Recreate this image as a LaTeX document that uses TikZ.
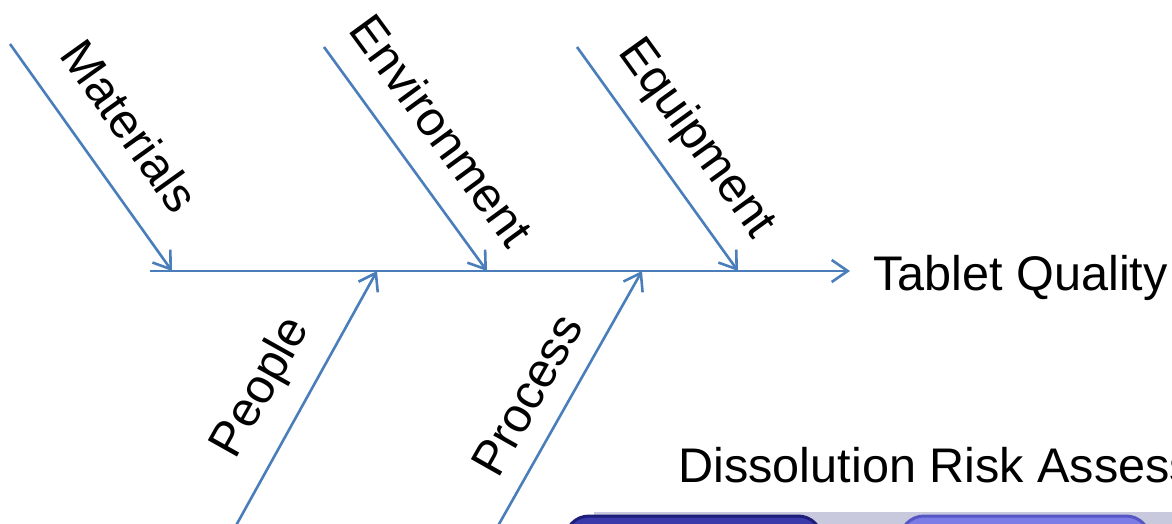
\documentclass[tikz,border=0pt]{standalone}
\usepackage{fontspec}
\setmainfont{Liberation Sans}
\usetikzlibrary{arrows.meta}
\definecolor{bonecol}{HTML}{4A7EBB}
\definecolor{barcol}{HTML}{C9C9DE}
\definecolor{darkbox}{HTML}{3A3AAA}
\definecolor{darkedge}{HTML}{1E1E7A}
\definecolor{lightbox}{HTML}{7C7CE6}
\definecolor{lightedge}{HTML}{5656C4}
\tikzstyle{bone}=[draw=bonecol,line width=1.3pt,-{Straight Barb[length=8pt,width=11pt,line width=1.3pt]}]
\tikzstyle{cause}=[inner sep=0pt,font=\fontsize{24.3}{28}\selectfont]
\tikzstyle{tab}=[line width=1.5pt,rounded corners=12pt]

\begin{document}
\begin{tikzpicture}[x=0.5pt,y=-0.5pt]
    \useasboundingbox (0,0) rectangle (1172,524);
    \clip (0,0) rectangle (1172,524);
    \coordinate (tail) at (150,271);
    \coordinate (head) at (850,271);
    \coordinate (j1) at (172,271);
    \coordinate (j2) at (377,271);
    \coordinate (j3) at (487,271);
    \coordinate (j4) at (642,271);
    \coordinate (j5) at (738,271);
    \coordinate (s1) at (10,44);
    \coordinate (s2) at (228,540);
    \coordinate (s3) at (324,47);
    \coordinate (s4) at (490,540);
    \coordinate (s5) at (577,47);

    \node[cause,rotate=-54.4] (mat) at (130,126) {Materials};
    \node[cause,rotate=-53.8] (env) at (442,130) {Environment};
    \node[cause,rotate=-54.2] (equ) at (696,139) {Equipment};
    \node[cause,rotate=60.7] (peo) at (262,388) {People};
    \node[cause,rotate=60.5] (pro) at (527,395) {Process};
    \node[cause,anchor=base west] (effect) at (873,290) {Tablet Quality};
    \node[cause,anchor=base west] (title) at (678,482) {Dissolution Risk Assessment};

    \foreach \from/\to in {tail/head,s1/j1,s2/j2,s3/j3,s4/j4,s5/j5}
    \draw[bone] (\from) -- (\to);

    \fill[barcol] (594,512) rectangle (1172,560);
    \draw[tab,draw=darkedge,fill=darkbox] (565,516) rectangle (822,580);
    \draw[tab,draw=lightedge,fill=lightbox] (900,516) rectangle (1150,580);
\end{tikzpicture}
\end{document}
